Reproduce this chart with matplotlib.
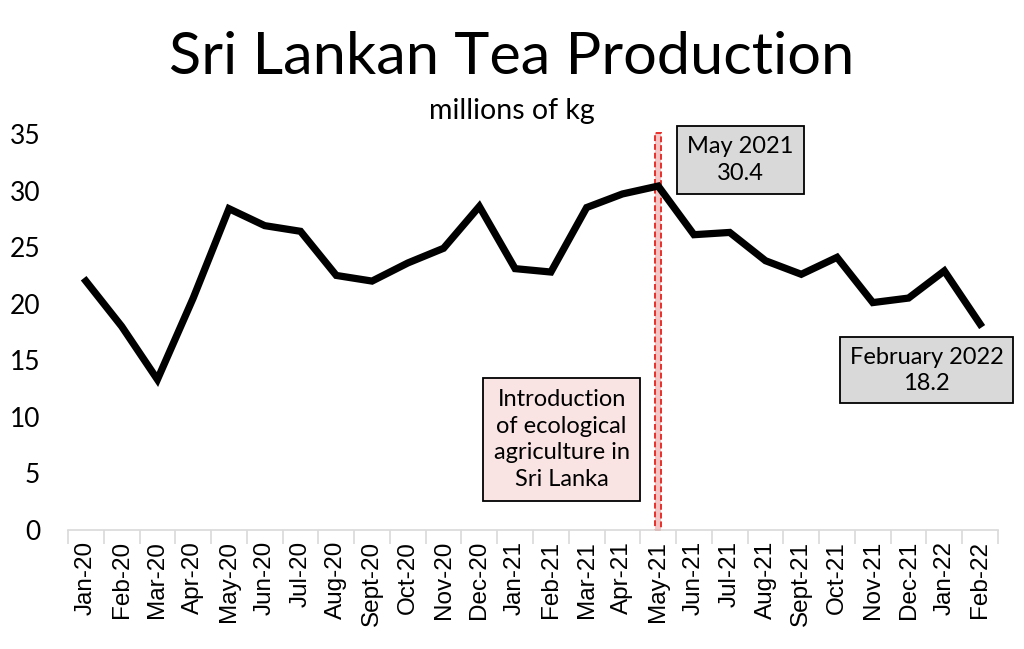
import matplotlib
matplotlib.use("Agg")
import matplotlib.pyplot as plt
from matplotlib.patches import Rectangle

months = ["Jan-20", "Feb-20", "Mar-20", "Apr-20", "May-20", "Jun-20", "Jul-20",
          "Aug-20", "Sept-20", "Oct-20", "Nov-20", "Dec-20", "Jan-21", "Feb-21",
          "Mar-21", "Apr-21", "May-21", "Jun-21", "Jul-21", "Aug-21", "Sept-21",
          "Oct-21", "Nov-21", "Dec-21", "Jan-22", "Feb-22"]
production = [22.0, 18.0, 13.3, 20.5, 28.4, 26.9, 26.4, 22.5, 22.0, 23.6, 24.9,
              28.6, 23.1, 22.8, 28.5, 29.7, 30.4, 26.1, 26.3, 23.8, 22.6, 24.1,
              20.1, 20.5, 22.9, 18.2]
y_ticks = [0, 5, 10, 15, 20, 25, 30, 35]

plt.rcParams['font.family'] = ['Lato', 'DejaVu Sans']

fig = plt.figure(figsize=(10.24, 6.49), dpi=100)
ax = fig.add_axes([68/1024, 119/649, 930/1024, 396/649])

x = list(range(len(months)))
ax.plot(x, production, color='black', lw=5.2, solid_joinstyle='miter', zorder=3)

ax.set_xlim(-0.5, len(months) - 0.5)
ax.set_ylim(0, 35)
ax.set_yticks(y_ticks)
ax.set_yticklabels([str(v) for v in y_ticks], fontsize=19)
ax.tick_params(axis='y', length=0, pad=20)
ax.set_xticks(x)
ax.set_xticklabels(months, rotation=90, fontsize=17.5,
                   family=['Liberation Sans', 'DejaVu Sans'])
ax.tick_params(axis='x', length=0, pad=8)
ax.set_xticks([i - 0.5 for i in range(len(months) + 1)], minor=True)
ax.tick_params(axis='x', which='minor', length=10, color='#d9d9d9', width=1.2)
for s in ['top', 'right', 'left']:
    ax.spines[s].set_visible(False)
ax.spines['bottom'].set_color('#d9d9d9')
ax.spines['bottom'].set_linewidth(1.2)

# vertical marker at May-21
idx = months.index("May-21")
rect = Rectangle((idx - 0.09, 0), 0.18, 35.1, facecolor='#f6c6c6',
                 edgecolor='#e8302a', linestyle=(0, (3, 1.5)), lw=1.4,
                 clip_on=False, zorder=2)
ax.add_patch(rect)

ax.text(18.3, 32.7, "May 2021\n30.4", ha='center', va='center', fontsize=17,
        linespacing=1.3,
        bbox=dict(boxstyle='square,pad=0.45', facecolor='#d9d9d9',
                  edgecolor='black', lw=1.3), zorder=5)
ax.text(23.5, 14.1, "February 2022\n18.2", ha='center', va='center', fontsize=17,
        linespacing=1.3,
        bbox=dict(boxstyle='square,pad=0.4', facecolor='#d9d9d9',
                  edgecolor='black', lw=1.3), zorder=5)
ax.text(13.3, 8.0, "Introduction\nof ecological\nagriculture in\nSri Lanka",
        ha='center', va='center', fontsize=17, linespacing=1.35,
        bbox=dict(boxstyle='square,pad=0.45', facecolor='#fae3e3',
                  edgecolor='black', lw=1.3), zorder=5)

fig.text(0.5, 1 - 57/649, "Sri Lankan Tea Production", ha='center', va='center',
         fontsize=42.8)
fig.text(0.5, 1 - 111/649, "millions of kg", ha='center', va='center',
         fontsize=20.5)

fig.savefig("out.png", dpi=100)
